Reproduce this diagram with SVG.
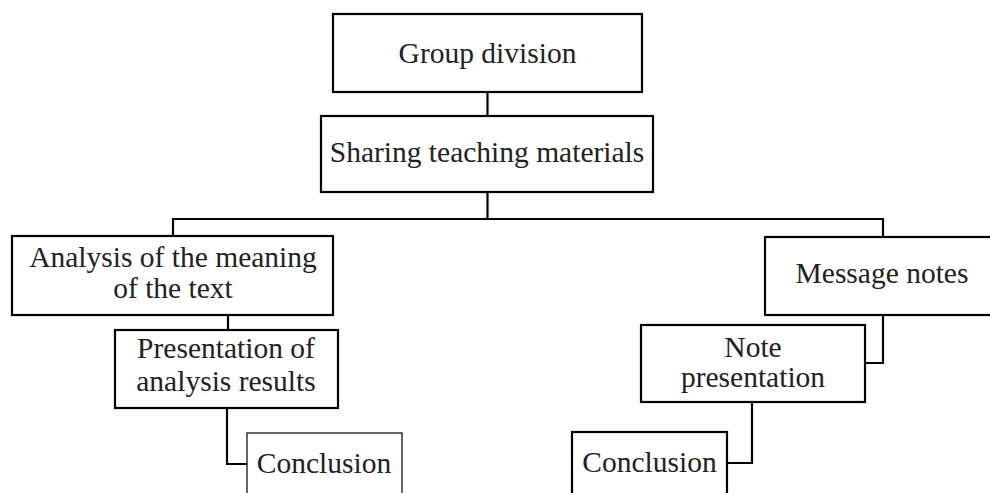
<svg xmlns="http://www.w3.org/2000/svg" width="990" height="493" viewBox="0 0 990 493">
<style>
.box{fill:#fff;stroke:#000;stroke-width:2.2}
.thin{fill:#fff;stroke:#000;stroke-width:1.2}
.conn{fill:none;stroke:#000;stroke-width:2.2}
text{font-family:"Liberation Serif","Times New Roman",serif;font-size:29.5px;fill:#222;text-anchor:middle}
</style>
<rect width="990" height="493" fill="#fff"/>
<g id="connectors">
<path class="conn" d="M487.5 92V116"/>
<path class="conn" d="M487.5 192V219M173 236V219H883V236"/>
<path class="conn" d="M228 315V330"/>
<path class="conn" d="M227 408V464H247"/>
<path class="conn" d="M883 315V363H865"/>
<path class="conn" d="M752 402V463H727"/>
</g>
<g id="group-division">
<rect class="box" x="333" y="14" width="309" height="78"/>
<text x="487.5" y="63">Group division</text>
</g>
<g id="sharing">
<rect class="box" x="321" y="116" width="332" height="76"/>
<text x="487" y="162">Sharing teaching materials</text>
</g>
<g id="analysis">
<rect class="box" x="12" y="236" width="321" height="79"/>
<text x="173" y="267">Analysis of the meaning</text>
<text x="173" y="298">of the text</text>
</g>
<g id="presentation">
<rect class="box" x="115" y="330" width="223" height="78"/>
<text x="226" y="358">Presentation of</text>
<text x="226" y="391">analysis results</text>
</g>
<g id="conclusion-left">
<rect class="thin" x="247" y="433" width="155" height="80"/>
<text x="324" y="473">Conclusion</text>
</g>
<g id="message-notes">
<rect class="box" x="765" y="237" width="235" height="78"/>
<text x="882" y="283">Message notes</text>
</g>
<g id="note-presentation">
<rect class="box" x="641" y="325" width="224" height="77"/>
<text x="753" y="357">Note</text>
<text x="753" y="387">presentation</text>
</g>
<g id="conclusion-right">
<rect class="box" x="572" y="432" width="155" height="80"/>
<text x="649.5" y="472">Conclusion</text>
</g>
</svg>
